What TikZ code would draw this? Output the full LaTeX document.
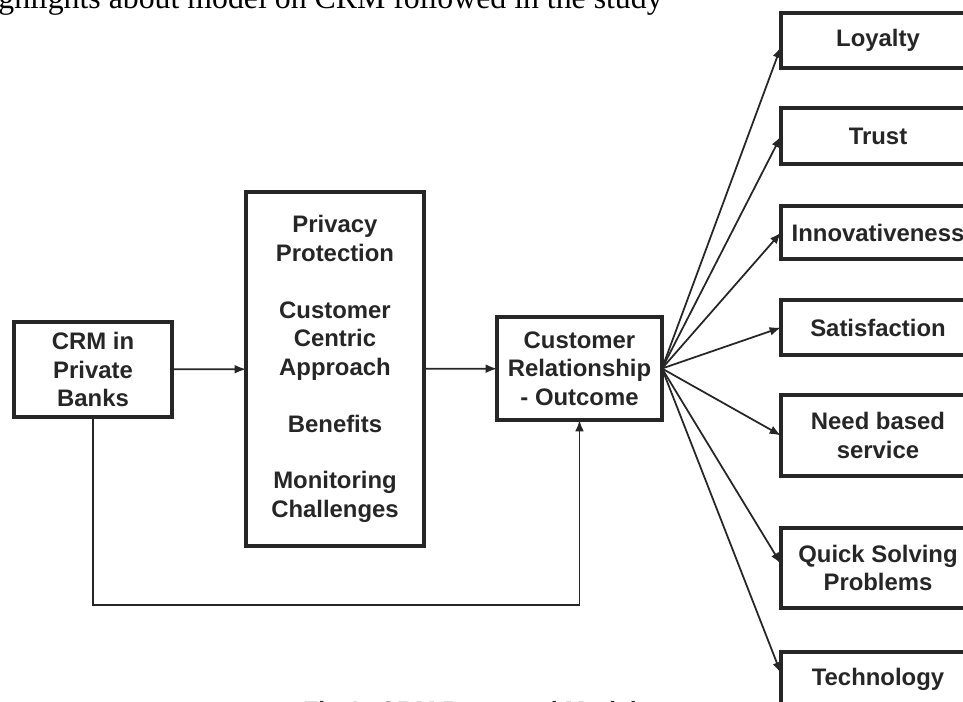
\documentclass[tikz,border=0pt]{standalone}
\usepackage{fontspec}
\setmainfont{Liberation Serif}
\setsansfont{Liberation Sans}
\usepackage{xcolor}
\usetikzlibrary{arrows.meta,positioning}
\definecolor{inkgray}{HTML}{262626}

\begin{document}
\begin{tikzpicture}[x=0.02cm,y=-0.02cm]
    \tikzstyle{block} = [rectangle, draw=inkgray, line width=1.9pt, text=inkgray,
               align=center, inner sep=0pt, outer sep=0pt,
               font=\sffamily\bfseries\fontsize{13.6}{16.2}\selectfont]
    \tikzstyle{result} = [block, minimum width=3.88cm, minimum height=1.1cm]
    \tikzstyle{line} = [draw=inkgray, line width=1pt, -{Latex[length=6.5pt,width=5pt]}]

    \useasboundingbox (0,0) rectangle (963,701);
    \clip (0,0) rectangle (963,701);

    % running text above and caption below
    \node[anchor=base west, inner sep=0pt, font=\rmfamily\fontsize{18.1}{20}\selectfont] (intro) at (-2,8)
      {ghlights about model on CRM followed in the study};
    \node[anchor=base, inner sep=0pt, text=inkgray, font=\sffamily\bfseries\fontsize{14.2}{17}\selectfont] (caption) at (470,719)
      {Fig.1: CRM Proposed Model};

    % main chain
    \node[block, minimum width=3.16cm, minimum height=1.9cm] (crm) at (93,369.5)
      {CRM in\\Private\\Banks};
    \node[block, minimum width=3.56cm, minimum height=7.08cm] (mid) at (335,369)
      {Privacy\\Protection\\[16.2pt]Customer\\Centric\\Approach\\[16.2pt]Benefits\\[16.2pt]Monitoring\\Challenges};
    \node[block, minimum width=3.3cm, minimum height=2.06cm] (out) at (579.5,368.5)
      {Customer\\Relationship\\- Outcome};

    % outcomes
    \node[result] (loyalty) at (878,40.5) {Loyalty};
    \node[result, minimum height=1.12cm] (trust) at (878,136) {Trust};
    \node[result, minimum height=1.06cm] (innov) at (878,232.5) {Innovativeness};
    \node[result] (satis) at (878,327.5) {Satisfaction};
    \node[result, minimum height=1.62cm] (need) at (878,435.5) {Need based\\service};
    \node[result, minimum height=1.6cm] (quick) at (878,568) {Quick Solving\\Problems};
    \node[result] (tech) at (878,679.5) {Technology};

    \draw[line] (crm) -- (mid);
    \draw[line] (mid) -- (out);
    \draw[line] (crm.south) -- ++(0,188) -| (out.south);

    \draw[line] (out.east) -- ([yshift=-0.12cm]loyalty.west);
    \draw[line] (out.east) -- (trust.west);
    \draw[line] (out.east) -- (innov.west);
    \draw[line] (out.east) -- (satis.west);
    \draw[line] (out.east) -- (need.west);
    \draw[line] (out.east) -- ([yshift=0.08cm]quick.west);
    \draw[line] (out.east) -- ([yshift=0.12cm]tech.west);
\end{tikzpicture}
\end{document}
